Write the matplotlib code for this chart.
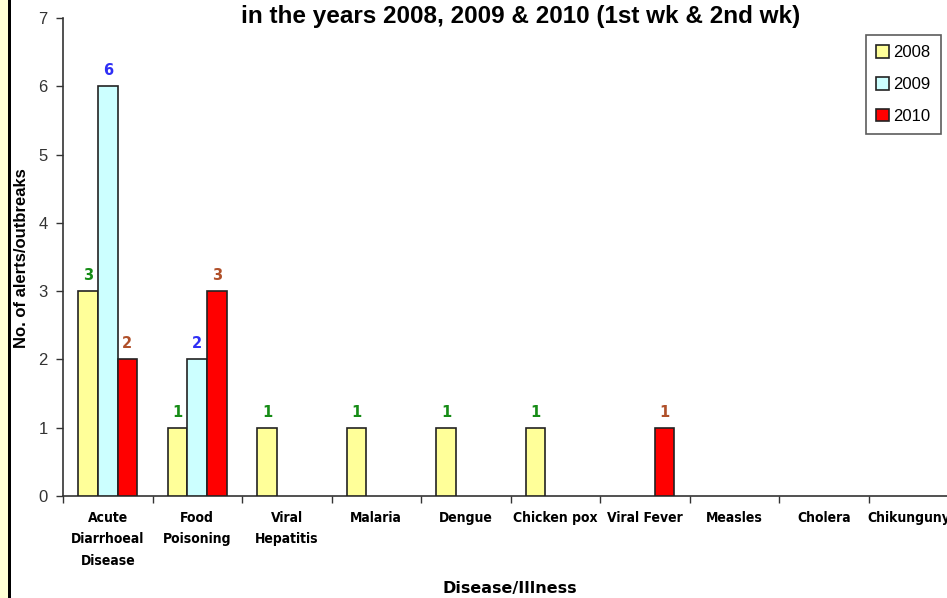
import matplotlib
matplotlib.use("Agg")
import matplotlib.pyplot as plt
import numpy as np
from matplotlib.patches import Rectangle

categories = ["Acute\nDiarrhoeal\nDisease", "Food\nPoisoning", "Viral\nHepatitis", "Malaria",
              "Dengue", "Chicken pox", "Viral Fever", "Measles", "Cholera", "Chikungunya"]
years = ["2008", "2009", "2010"]
v2008 = [3, 1, 1, 1, 1, 1, 0, 0, 0, 0]
v2009 = [6, 2, 0, 0, 0, 0, 0, 0, 0, 0]
v2010 = [2, 3, 0, 0, 0, 0, 1, 0, 0, 0]
series = [v2008, v2009, v2010]
fills = ["#FFFF99", "#CCFFFF", "#FF0000"]
label_colors = ["#168C16", "#2F2FF5", "#B0502A"]

W, H = 947, 598
fig = plt.figure(figsize=(W / 100, H / 100), dpi=100)
fig.patch.set_facecolor("white")

# left decorative strip
fig.patches.append(Rectangle((0, 0), 8 / W, 1, transform=fig.transFigure,
                             facecolor="#FFFFD5", edgecolor="none", zorder=0))
fig.patches.append(Rectangle((8 / W, 0), 3 / W, 1, transform=fig.transFigure,
                             facecolor="black", edgecolor="none", zorder=0))

left, right = 63, 958
y0, y7 = 496, 18
ax = fig.add_axes([left / W, (H - y0) / H, (right - left) / W, (y0 - y7) / H])
n = len(categories)
x = np.arange(n)
bw = 0.218
for i, (vals, fc, lc) in enumerate(zip(series, fills, label_colors)):
    pos = x + (i - 1) * bw
    v = np.array(vals, dtype=float)
    keep = v > 0
    ax.bar(pos[keep], v[keep], width=bw, color=fc, edgecolor="#222222", linewidth=1.2,
           label=years[i], zorder=3)
    for p, val in zip(pos[keep], v[keep]):
        ax.text(p, val + 0.12, str(int(val)), ha="center", va="bottom", color=lc,
                fontsize=10.5, fontweight="bold", family="DejaVu Sans")

ax.set_xlim(-0.5, n - 0.5)
ax.set_ylim(0, 7)
ax.set_yticks(range(0, 8))
ax.set_yticklabels([str(t) for t in range(0, 8)], family="Liberation Sans", fontsize=12)
ax.tick_params(axis="y", direction="out", length=5, width=1, colors="#333333",
               labelcolor="#333333", pad=6)
ax.set_xticks(np.arange(-0.5, n, 1.0), minor=False)
ax.set_xticklabels([])
ax.tick_params(axis="x", direction="out", length=5, width=1, colors="#333333")
ax.set_xticks(x, minor=True)
ax.set_xticklabels(categories, minor=True, fontsize=10, fontweight="bold",
                   family="DejaVu Sans", stretch="condensed", linespacing=1.65)
ax.tick_params(axis="x", which="minor", length=0, pad=11, labelcolor="black")

for s in ["top", "right"]:
    ax.spines[s].set_visible(False)
for s in ["left", "bottom"]:
    ax.spines[s].set_color("#333333")
    ax.spines[s].set_linewidth(1.2)

fig.text(510 / W, 1 - 589 / H, "Disease/Illness", ha="center", va="center",
         fontsize=11.5, fontweight="bold")
fig.text(22 / W, 1 - 258 / H, "No. of alerts/outbreaks", ha="center", va="center",
         rotation=90, fontsize=12, fontweight="bold", family="Liberation Sans")
fig.text(521 / W, 1 - 17 / H, "in the years 2008, 2009 & 2010 (1st wk & 2nd wk)",
         ha="center", va="center", fontsize=17.5, fontweight="bold", family="Liberation Sans")

leg = ax.legend(loc="upper left", bbox_to_anchor=(866 / W, 1 - 35 / H),
                bbox_transform=fig.transFigure, frameon=True, fancybox=False,
                handlelength=0.8, handleheight=0.8, handletextpad=0.25,
                labelspacing=1.0, borderpad=0.6, borderaxespad=0,
                prop={"family": "Liberation Sans", "size": 12})
leg.get_frame().set_edgecolor("#333333")
leg.get_frame().set_linewidth(1.2)

fig.savefig("out.png", dpi=100)
